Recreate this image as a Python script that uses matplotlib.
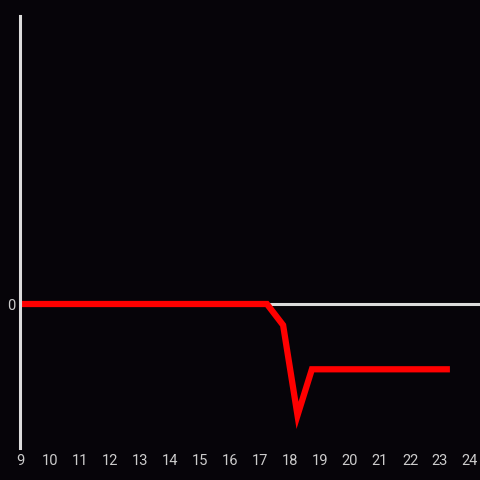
import matplotlib
matplotlib.use("Agg")
import matplotlib.pyplot as plt

# values
hours = [9.0, 17.23, 17.77, 18.25, 18.73, 23.33]
values = [0, 0, -22, -116, -68, -68]
xticks = list(range(9, 25))

bg = "#060409"
grid_col = "#dcdcdc"
label_col = "#cccccc"

plt.rcParams["font.family"] = ["Roboto", "DejaVu Sans"]

fig = plt.figure(figsize=(4.8, 4.8), dpi=100, facecolor=bg)
ax = fig.add_axes([20 / 480, 1 - 448 / 480, 1 - 20 / 480, (448 - 16) / 480])
ax.set_facecolor(bg)

ax.axhline(0, color=grid_col, lw=2.2, zorder=1)
ax.plot(hours, values, color="#ff0000", lw=4.5, solid_joinstyle="miter",
        solid_capstyle="butt", zorder=3)

ax.set_xlim(9, 24.333)
ax.set_ylim(-150, 300)
ax.set_xticks(xticks)
ax.set_yticks([0])
ax.tick_params(length=0, colors=label_col, labelsize=10.5)
ax.tick_params(axis="x", pad=4)
ax.tick_params(axis="y", pad=3)

for s in ["top", "right", "bottom"]:
    ax.spines[s].set_visible(False)
ax.spines["left"].set_color(grid_col)
ax.spines["left"].set_linewidth(2.2)
ax.spines["left"].set_zorder(4)

fig.savefig("out.png", dpi=100, facecolor=bg)
